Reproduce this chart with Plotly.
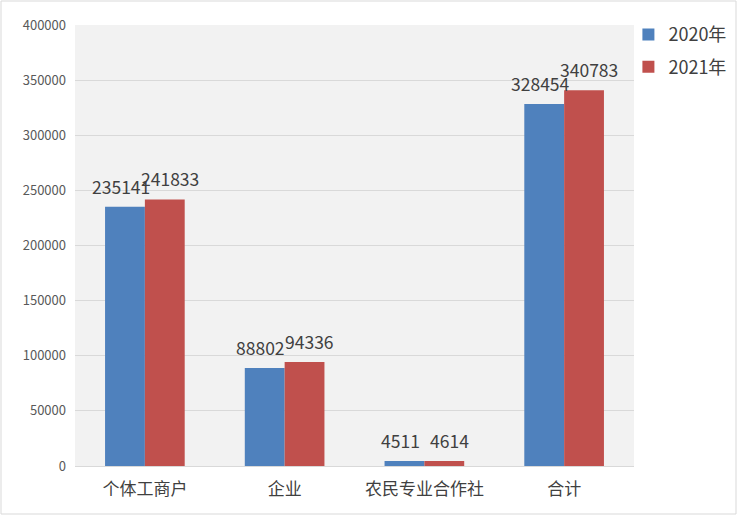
import plotly.graph_objects as go

# categories and values
categories = ["个体工商户", "企业", "农民专业合作社", "合计"]
values_2020 = [235141, 88802, 4511, 328454]
values_2021 = [241833, 94336, 4614, 340783]
series_names = ["2020年", "2021年"]
y_ticks = [0, 50000, 100000, 150000, 200000, 250000, 300000, 350000, 400000]

W, H = 738, 516
L, R, T, B = 75, 104, 25, 50
BARGAP = 0.43
font_main = "Liberation Sans Narrow, Noto Sans CJK SC, sans-serif"

pw, ph = W - L - R, H - T - B
bar_px = pw / len(categories) * (1 - BARGAP) / 2

fig = go.Figure()
series = [(series_names[0], values_2020, "#4f81bd", -1, -4),
          (series_names[1], values_2021, "#c0504d", 1, 5)]
for name, vals, color, side, nudge in series:
    fig.add_trace(go.Bar(
        x=categories, y=vals, name=name, legendgroup=name,
        marker_color=color, marker_line_width=0,
    ))
    # value labels above each bar, nudged a little like the original
    for cat, v in zip(categories, vals):
        fig.add_annotation(
            x=cat, y=v, xref="x", yref="y", text=str(v), showarrow=False,
            xanchor="center", yanchor="bottom",
            xshift=side * bar_px / 2 + nudge, yshift=6,
            font=dict(size=17.5, color="#404040", family=font_main),
        )

# light border around the whole chart
fig.add_shape(type="rect", xref="paper", yref="paper",
              x0=(1 - L) / pw, x1=(W - 2 - L) / pw,
              y0=-(H - 2 - T - ph) / ph, y1=1 + (T - 1) / ph,
              line=dict(color="#d9d9d9", width=1), fillcolor="rgba(0,0,0,0)")

fig.update_layout(
    width=W, height=H,
    margin=dict(l=L, r=R, t=T, b=B, autoexpand=False),
    barmode="group", bargap=BARGAP, bargroupgap=0,
    plot_bgcolor="#f2f2f2", paper_bgcolor="white",
    font=dict(family=font_main, color="#595959"),
    legend=dict(x=0.99, y=1.02, xanchor="left", yanchor="top",
                bgcolor="rgba(0,0,0,0)",
                font=dict(size=18, color="#404040"), itemwidth=30,
                tracegroupgap=6),
    xaxis=dict(showline=True, linecolor="#d9d9d9", ticks="",
               ticklabelstandoff=8,
               tickfont=dict(size=17, color="#404040")),
    yaxis=dict(range=[0, 400000], tickvals=y_ticks, tickformat="d",
               showgrid=True, gridcolor="#d9d9d9", zeroline=False,
               showline=False, tickfont=dict(size=13, color="#595959"),
               ticklabelstandoff=8),
)

# drop the default page margin so the figure fills the window
fig.write_html("out.html", config={"displayModeBar": False},
               post_script="document.body.style.margin='0';")
